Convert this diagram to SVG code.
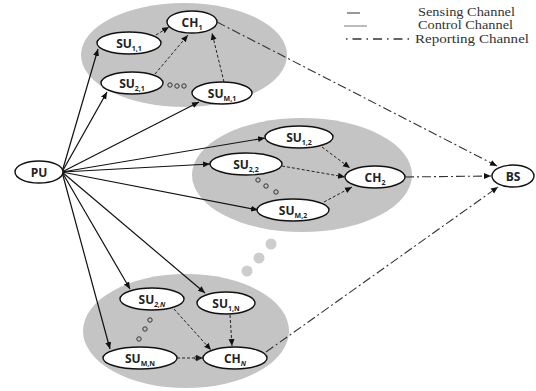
<svg xmlns="http://www.w3.org/2000/svg" width="536" height="391" viewBox="0 0 536 391">
<defs>
<marker id="ah" markerWidth="8" markerHeight="8" refX="7" refY="4" orient="auto" markerUnits="userSpaceOnUse">
<path d="M0,1 L7,4 L0,7 Z" fill="#111"/>
</marker>
<style>
.cl{fill:#c4c4c4;stroke:none}
.nd{fill:#fff;stroke:#111;stroke-width:1.4}
.lb{font-family:"Open Sans","Liberation Sans",sans-serif;font-weight:bold;font-size:12px;fill:#222;text-anchor:middle}
.sb{font-size:7px}
.sen{stroke:#111;stroke-width:1.2;fill:none;marker-end:url(#ah)}
.con{stroke:#222;stroke-width:1;stroke-dasharray:3 2;fill:none;marker-end:url(#ah)}
.rep{stroke:#333;stroke-width:1.1;stroke-dasharray:9 3 2 3;fill:none;marker-end:url(#ah)}
.dot{fill:none;stroke:#333;stroke-width:1}
.gd{fill:#cdcdcd}
.lg{font-family:"Liberation Serif",serif;font-size:11.5px;fill:#333}
</style>
</defs>
<g id="clusters">
<ellipse class="cl" cx="184" cy="55" rx="103" ry="52"/>
<ellipse class="cl" cx="302" cy="175" rx="110" ry="57"/>
<ellipse class="cl" cx="186" cy="331" rx="103" ry="57"/>
<circle class="gd" cx="271" cy="244" r="5.5"/>
<circle class="gd" cx="259" cy="258" r="5.5"/>
<circle class="gd" cx="247" cy="271" r="5.5"/>
</g>
<g id="connectors">
<line class="sen" x1="62" y1="172" x2="98" y2="49"/>
<line class="sen" x1="62" y1="172" x2="107" y2="92"/>
<line class="sen" x1="62" y1="172" x2="199" y2="102"/>
<line class="sen" x1="62" y1="172" x2="265" y2="138"/>
<line class="sen" x1="62" y1="172" x2="210" y2="164"/>
<line class="sen" x1="62" y1="172" x2="258" y2="210"/>
<line class="sen" x1="62" y1="172" x2="130" y2="289"/>
<line class="sen" x1="62" y1="172" x2="205" y2="293"/>
<line class="sen" x1="62" y1="172" x2="110" y2="349"/>
<line class="con" x1="156" y1="35" x2="169" y2="27"/>
<line class="con" x1="155" y1="74" x2="188" y2="35"/>
<line class="con" x1="224" y1="82" x2="212" y2="33"/>
<line class="con" x1="322" y1="147" x2="350" y2="168"/>
<line class="con" x1="282" y1="166" x2="345" y2="177"/>
<line class="con" x1="324" y1="202" x2="352" y2="187"/>
<line class="con" x1="174" y1="309" x2="211" y2="350"/>
<line class="con" x1="230" y1="315" x2="232" y2="346"/>
<line class="con" x1="177" y1="358" x2="203" y2="358"/>
<line class="rep" x1="217" y1="22" x2="497" y2="166"/>
<line class="rep" x1="405" y1="177" x2="491" y2="176"/>
<line class="rep" x1="266" y1="352" x2="498" y2="187"/>
</g>
<g id="dots">
<circle class="dot" cx="170" cy="85" r="2.2"/>
<circle class="dot" cx="177" cy="86" r="2.2"/>
<circle class="dot" cx="184" cy="86" r="2.2"/>
<circle class="dot" cx="258" cy="180" r="2.2"/>
<circle class="dot" cx="266" cy="186" r="2.2"/>
<circle class="dot" cx="276" cy="192" r="2.2"/>
<circle class="dot" cx="150" cy="320" r="2.2"/>
<circle class="dot" cx="145" cy="329" r="2.2"/>
<circle class="dot" cx="139" cy="339" r="2.2"/>
<circle class="dot" cx="197" cy="358" r="2.2"/>
</g>
<g id="PU"><ellipse class="nd" cx="39" cy="172" rx="24" ry="11"/><text class="lb" x="39" y="176.5">PU</text></g>
<g id="BS"><ellipse class="nd" cx="513" cy="176" rx="21" ry="11"/><text class="lb" x="513" y="180.5">BS</text></g>
<g id="CH1"><ellipse class="nd" cx="192" cy="22" rx="25" ry="11"/><text class="lb" x="192" y="26.5">CH<tspan class="sb" dy="3">1</tspan></text></g>
<g id="SU11"><ellipse class="nd" cx="129" cy="43" rx="32" ry="11"/><text class="lb" x="129" y="47.5">SU<tspan class="sb" dy="3">1,1</tspan></text></g>
<g id="SU21"><ellipse class="nd" cx="132" cy="83" rx="31" ry="11"/><text class="lb" x="132" y="87.5">SU<tspan class="sb" dy="3">2,1</tspan></text></g>
<g id="SUM1"><ellipse class="nd" cx="222" cy="93" rx="30" ry="11"/><text class="lb" x="222" y="97.5">SU<tspan class="sb" dy="3">M,1</tspan></text></g>
<g id="SU12"><ellipse class="nd" cx="299" cy="137" rx="34" ry="11"/><text class="lb" x="299" y="141.5">SU<tspan class="sb" dy="3">1,2</tspan></text></g>
<g id="SU22"><ellipse class="nd" cx="246" cy="164" rx="36" ry="11"/><text class="lb" x="246" y="168.5">SU<tspan class="sb" dy="3">2,2</tspan></text></g>
<g id="CH2"><ellipse class="nd" cx="375" cy="177" rx="30" ry="11"/><text class="lb" x="375" y="181.5">CH<tspan class="sb" dy="3">2</tspan></text></g>
<g id="SUM2"><ellipse class="nd" cx="293" cy="210" rx="36" ry="11"/><text class="lb" x="293" y="214.5">SU<tspan class="sb" dy="3">M,2</tspan></text></g>
<g id="SU2N"><ellipse class="nd" cx="152" cy="299" rx="32" ry="11"/><text class="lb" x="152" y="303.5">SU<tspan class="sb" dy="3" font-style="italic">2,N</tspan></text></g>
<g id="SU1N"><ellipse class="nd" cx="226" cy="303" rx="29" ry="11"/><text class="lb" x="226" y="307.5">SU<tspan class="sb" dy="3">1,N</tspan></text></g>
<g id="SUMN"><ellipse class="nd" cx="140" cy="358" rx="37" ry="11"/><text class="lb" x="140" y="362.5">SU<tspan class="sb" dy="3">M,N</tspan></text></g>
<g id="CHN"><ellipse class="nd" cx="235" cy="358" rx="32" ry="11"/><text class="lb" x="235" y="362.5">CH<tspan class="sb" dy="3" font-style="italic">N</tspan></text></g>
<g id="legend">
<line x1="347" y1="13" x2="360" y2="13" stroke="#333" stroke-width="1"/>
<line x1="344" y1="26" x2="367" y2="26" stroke="#555" stroke-width="0.8"/>
<line x1="346" y1="39" x2="414" y2="39" stroke="#333" stroke-width="1.4" stroke-dasharray="1.5 5 9 5"/>
<text class="lg" x="418" y="16" textLength="97" lengthAdjust="spacingAndGlyphs">Sensing Channel</text>
<text class="lg" x="418" y="29" textLength="95" lengthAdjust="spacingAndGlyphs">Control Channel</text>
<text class="lg" x="415" y="42.5" textLength="114" lengthAdjust="spacingAndGlyphs">Reporting Channel</text>
</g>
</svg>
